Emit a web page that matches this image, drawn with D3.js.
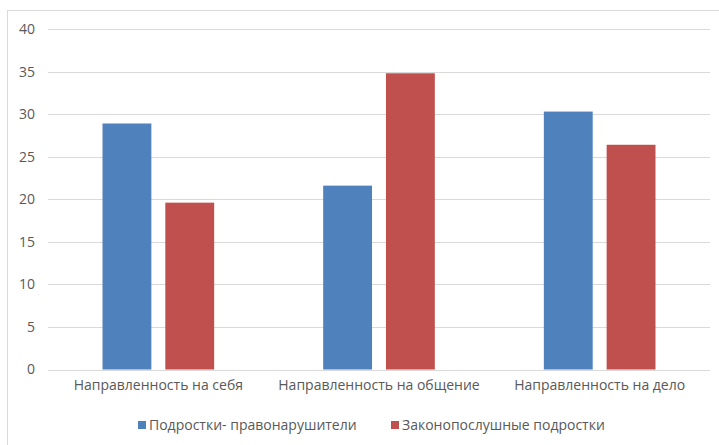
<!DOCTYPE html>
<html>
<head>
<meta charset="utf-8">
<script src="https://cdn.jsdelivr.net/npm/d3@7"></script>
<style>
  body { margin: 0; background: #fff; }
  text { font-family: "Open Sans", "Liberation Sans", sans-serif; fill: #595959; }
</style>
</head>
<body>
<div id="chart-area"></div>
<script>
var categories = ['Направленность на себя', 'Направленность на общение', 'Направленность на дело'];
var seriesNames = ['Подростки- правонарушители', 'Законопослушные подростки'];
var offenders = [28.9, 21.6, 30.3];
var lawAbiding = [19.6, 34.8, 26.4];
var yTicks = [0, 5, 10, 15, 20, 25, 30, 35, 40];
var colors = ['#4F81BD', '#C0504D'];

var margin = { left: 48, right: 9, top: 29, bottom: 75.5 };
var width = 719 - margin.left - margin.right,
    height = 445 - margin.top - margin.bottom;

var svg = d3.select('#chart-area')
    .append('svg')
    .attr('width', 719)
    .attr('height', 445);

// chart border
svg.append('rect')
    .attr('x', 7.5).attr('y', 10.5)
    .attr('width', 720).attr('height', 440)
    .attr('fill', 'none')
    .attr('stroke', '#d9d9d9');

var g = svg.append('g')
    .attr('transform', 'translate(' + margin.left + ', ' + margin.top + ')');

var x = d3.scaleBand()
    .domain(categories)
    .range([0, width]);

var sub = d3.scaleBand()
    .domain([0, 1])
    .range([x.bandwidth() * 0.247, x.bandwidth() * 0.753])
    .paddingInner(0.222);

var y = d3.scaleLinear()
    .domain([0, 40])
    .range([height, 0]);

// gridlines
g.selectAll('.grid')
    .data(yTicks)
    .enter().append('line')
    .attr('x1', 0).attr('x2', width)
    .attr('y1', d => Math.round(y(d)) + 0.5)
    .attr('y2', d => Math.round(y(d)) + 0.5)
    .attr('stroke', '#d9d9d9')
    .attr('stroke-width', 1);

var rows = categories.map((c, i) => ({ cat: c, vals: [offenders[i], lawAbiding[i]] }));

var groups = g.selectAll('.grp')
    .data(rows)
    .enter().append('g')
    .attr('transform', d => 'translate(' + x(d.cat) + ',0)');

groups.selectAll('rect')
    .data(d => d.vals)
    .enter().append('rect')
    .attr('x', (d, i) => sub(i))
    .attr('width', sub.bandwidth())
    .attr('y', d => y(d))
    .attr('height', d => height - y(d))
    .attr('fill', (d, i) => colors[i]);

// y axis labels
var yAxis = d3.axisLeft(y).tickValues(yTicks).tickSize(0).tickPadding(13);
var ya = g.append('g').call(yAxis);
ya.select('.domain').remove();
ya.selectAll('text').style('font-size', '14px').attr('fill', '#595959');

// x axis labels
var xAxis = d3.axisBottom(x).tickSize(0).tickPadding(11);
var xa = g.append('g')
    .attr('transform', 'translate(0, ' + height + ')')
    .call(xAxis);
xa.select('.domain').remove();
xa.selectAll('text').style('font-size', '14px').attr('fill', '#595959');

// legend
var legendX = [138, 391];
var legend = svg.selectAll('.leg')
    .data(seriesNames)
    .enter().append('g')
    .attr('transform', (d, i) => 'translate(' + legendX[i] + ', 421)');
legend.append('rect')
    .attr('width', 8).attr('height', 8)
    .attr('fill', (d, i) => colors[i]);
legend.append('text')
    .attr('x', 11).attr('y', 4)
    .attr('dy', '0.35em')
    .style('font-size', '14px')
    .text(d => d);
</script>
</body>
</html>
